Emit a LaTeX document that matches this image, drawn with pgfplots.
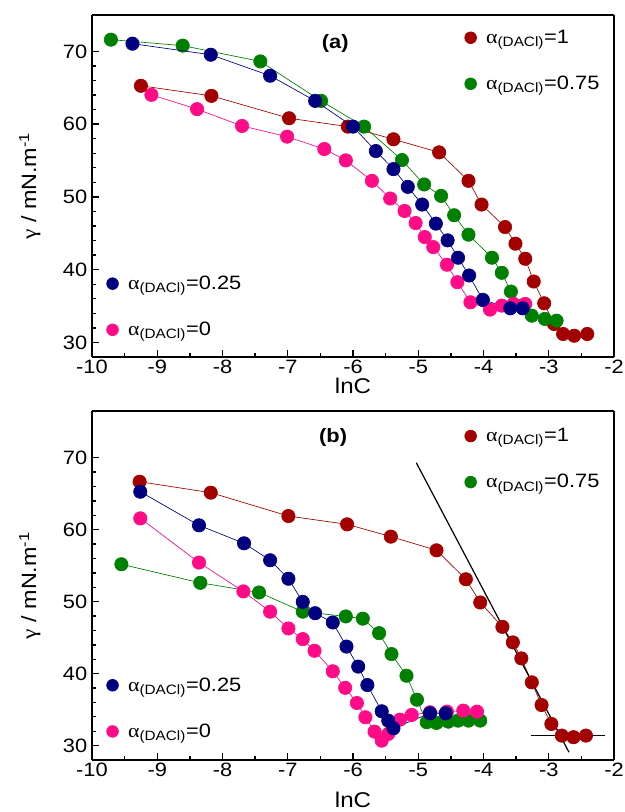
\documentclass[border=0pt]{standalone}
\usepackage{fontspec}
\setmainfont{Liberation Sans}[FakeStretch=1.13]
\newfontfamily\grk{Liberation Serif}[FakeStretch=1.13]
\usepackage{pgfplots}
\pgfplotsset{compat=1.18}
\definecolor{dred}{RGB}{163,0,0}
\definecolor{dgreen}{RGB}{0,128,0}
\definecolor{dblue}{RGB}{0,0,128}
\definecolor{dpink}{RGB}{255,10,135}

\pgfplotsset{
  panel/.style={
    scale only axis, width=391.5pt, anchor=south west,
    xmin=-10, xmax=-2, xtick={-10,-9,...,-2}, minor x tick num=1,
    ytick={30,40,...,70}, minor y tick num=4,
    tick pos=left, tick align=inside,
    separate axis lines,
    every outer x axis line/.append style={line width=1.8pt},
    every outer y axis line/.append style={line width=1.8pt},
    axis line style={line width=1.8pt},
    major tick length=5pt, minor tick length=3pt,
    every tick/.style={black, line width=1pt},
    ticklabel style={font=\fontsize{14.5}{16}\selectfont},
    xticklabel style={yshift=1pt},
    /pgf/number format/assume math mode=true,
    legend image code/.code={\fill[##1] (0pt,0pt) circle (4.4pt);},
    legend cell align=left,
    legend style={draw=none, fill=none, anchor=west, inner sep=0pt,
      row sep=19pt, font=\fontsize{14.5}{15}\selectfont,
      /tikz/every odd column/.append style={column sep=5pt}},
    clip=false,
  },
  ser/.style={color=#1, line width=0.5pt, mark=*, mark size=5pt,
    mark options={solid, fill=#1, draw=#1}},
}
\newcommand{\al}[1]{{\grk α}\textsubscript{(DACl)}=#1}
\newcommand{\ylab}{{\grk γ} / mN.m\textsuperscript{-1}}

\begin{document}
\begin{tikzpicture}
\useasboundingbox (0,0) rectangle (468pt,609pt);

% ---------- panel (a) ----------
\begin{axis}[panel, at={(69pt,341.25pt)}, height=256.5pt, ymin=28, ymax=75,
  xlabel={lnC}, ylabel={\ylab},
  xlabel style={at={(axis description cs:0.5,-0.085)}, anchor=center, font=\fontsize{16}{18}\selectfont},
  ylabel style={at={(axis description cs:-0.119,0.5)}, anchor=center, font=\fontsize{15.5}{17}\selectfont},
  legend style={at={(0.713,0.866)}}]
\addplot[ser=dred] coordinates {(-9.25,65.27)(-8.17,63.89)(-6.98,60.81)(-6.08,59.66)(-5.38,57.92)(-4.68,56.12)(-4.23,52.21)(-4.03,48.95)(-3.67,45.86)(-3.51,43.57)(-3.36,41.50)(-3.23,38.37)(-3.07,35.38)(-2.92,32.54)(-2.78,31.16)(-2.61,30.92)(-2.41,31.16)};
\addlegendentry{\al{1}}
\addplot[ser=dgreen] coordinates {(-9.71,71.61)(-8.61,70.79)(-7.42,68.62)(-6.49,63.20)(-5.83,59.66)(-5.25,55.06)(-4.91,51.71)(-4.65,50.14)(-4.45,47.48)(-4.23,44.81)(-3.87,41.64)(-3.72,39.57)(-3.58,36.99)(-3.42,35.06)(-3.26,33.68)(-3.06,33.23)(-2.88,32.99)};
\addlegendentry{\al{0.75}}
\node[font=\bfseries\fontsize{14.5}{16}\selectfont] at (rel axis cs:0.466,0.918) {(a)};
\end{axis}
\begin{axis}[panel, hide axis, at={(69pt,341.25pt)}, height=256.5pt, ymin=28, ymax=75,
  reverse legend, legend style={at={(0.027,0.147)}}]
\addplot[ser=dpink] coordinates {(-9.09,64.03)(-8.39,62.06)(-7.70,59.75)(-7.01,58.28)(-6.44,56.58)(-6.11,55.02)(-5.71,52.21)(-5.43,49.78)(-5.21,48.07)(-5.04,46.41)(-4.90,44.48)(-4.77,43.10)(-4.56,40.68)(-4.40,38.28)(-4.20,35.52)(-3.90,34.51)(-3.72,35.06)(-3.54,35.29)(-3.36,35.29)};
\addlegendentry{\al{0}}
\addplot[ser=dblue] coordinates {(-9.38,71.06)(-8.18,69.54)(-7.27,66.65)(-6.58,63.20)(-6.00,59.66)(-5.65,56.30)(-5.38,53.82)(-5.16,51.38)(-4.94,48.95)(-4.73,46.33)(-4.55,44.03)(-4.39,41.64)(-4.22,39.20)(-4.01,35.85)(-3.59,34.69)(-3.40,34.69)};
\addlegendentry{\al{0.25}}
\end{axis}

% ---------- panel (b) ----------
\begin{axis}[panel, at={(69pt,39pt)}, height=261.75pt, ymin=28, ymax=76.5,
  xlabel={lnC}, ylabel={\ylab},
  xlabel style={at={(axis description cs:0.5,-0.115)}, anchor=center, font=\fontsize{16}{18}\selectfont},
  ylabel style={at={(axis description cs:-0.119,0.5)}, anchor=center, font=\fontsize{15.5}{17}\selectfont},
  legend style={at={(0.713,0.862)}}]
\addplot[ser=dred] coordinates {(-9.27,66.67)(-8.18,65.15)(-6.99,61.90)(-6.09,60.75)(-5.42,59.04)(-4.72,57.14)(-4.27,53.12)(-4.05,49.89)(-3.71,46.50)(-3.55,44.34)(-3.42,42.12)(-3.26,38.79)(-3.11,35.64)(-2.96,33.01)(-2.80,31.39)(-2.62,31.17)(-2.43,31.39)};
\addlegendentry{\al{1}}
\addplot[ser=dgreen] coordinates {(-9.55,55.20)(-8.34,52.62)(-7.44,51.28)(-6.77,48.61)(-6.11,47.95)(-5.85,47.64)(-5.60,45.63)(-5.41,42.72)(-5.18,39.71)(-5.02,36.38)(-4.87,33.25)(-4.72,33.15)(-4.54,33.33)(-4.39,33.47)(-4.23,33.47)(-4.05,33.47)};
\addlegendentry{\al{0.75}}
\addplot[black, line width=0.9pt, forget plot] coordinates {(-5.03,69.31)(-2.69,29.08)};
\addplot[black, line width=0.9pt, forget plot] coordinates {(-3.27,31.39)(-2.14,31.39)};
\node[font=\bfseries\fontsize{14.5}{16}\selectfont] at (rel axis cs:0.462,0.923) {(b)};
\end{axis}
\begin{axis}[panel, hide axis, at={(69pt,39pt)}, height=261.75pt, ymin=28, ymax=76.5,
  reverse legend, legend style={at={(0.027,0.148)}}]
\addplot[ser=dpink] coordinates {(-9.26,61.58)(-8.36,55.44)(-7.68,51.43)(-7.27,48.61)(-6.99,46.28)(-6.77,44.80)(-6.59,43.18)(-6.31,40.33)(-6.12,38.03)(-5.94,35.92)(-5.81,33.94)(-5.67,31.94)(-5.56,30.69)(-5.46,31.62)(-5.28,33.61)(-5.10,34.26)(-4.82,34.63)(-4.56,34.72)(-4.31,34.86)(-4.10,34.72)};
\addlegendentry{\al{0}}
\addplot[ser=dblue] coordinates {(-9.26,65.28)(-8.36,60.61)(-7.67,58.11)(-7.27,55.76)(-6.99,53.19)(-6.77,49.97)(-6.58,48.40)(-6.31,47.11)(-6.10,43.76)(-5.92,40.98)(-5.78,38.42)(-5.56,34.77)(-5.46,33.47)(-5.38,32.41)(-4.82,34.49)(-4.58,34.49)};
\addlegendentry{\al{0.25}}
\end{axis}
\end{tikzpicture}
\end{document}
